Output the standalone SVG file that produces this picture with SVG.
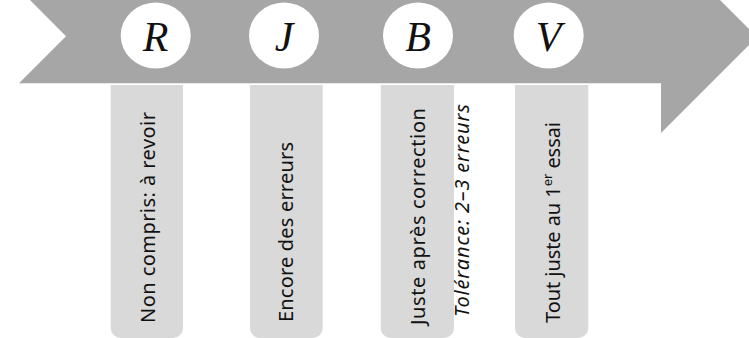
<svg xmlns="http://www.w3.org/2000/svg" width="749" height="338" viewBox="0 0 749 338">
<style>
.arrow{fill:#a6a6a6}
.card{fill:#d9d9d9}
.badge{fill:#ffffff}
.letter{font-family:"Liberation Serif",serif;font-style:italic;font-size:42px;fill:#111;text-anchor:middle}
.lbl{font-family:"Noto Sans","Liberation Sans",sans-serif;font-size:20px;fill:#111}
.it{font-style:italic}
</style>
<rect width="749" height="338" fill="#ffffff"/>
<g id="arrow">
<polygon class="arrow" points="19,-11 661,-11 661,-59 757,37 661,133 661,83.3 19,83.3 66,36.2"/>
</g>
<g id="card-R">
<path class="card" d="M110.7,85 H183 V328 a10,10 0 0 1 -10,10 H120.7 a10,10 0 0 1 -10,-10 Z"/>
<text class="lbl" transform="translate(155,323) rotate(-90)" textLength="211" lengthAdjust="spacing">Non  compris: à revoir</text>
</g>
<g id="card-J">
<path class="card" d="M250,85 H322.7 V328 a10,10 0 0 1 -10,10 H260 a10,10 0 0 1 -10,-10 Z"/>
<text class="lbl" transform="translate(293,322) rotate(-90)" textLength="180" lengthAdjust="spacing">Encore des erreurs</text>
</g>
<g id="card-B">
<path class="card" d="M380.7,85 H454 V328 a10,10 0 0 1 -10,10 H390.7 a10,10 0 0 1 -10,-10 Z"/>
<text class="lbl" transform="translate(425,325) rotate(-90)" textLength="217" lengthAdjust="spacing">Juste après correction</text>
</g>
<g id="tolerance">
<text class="lbl it" transform="translate(469,317) rotate(-90)" textLength="213" lengthAdjust="spacing">Tolérance: 2–3 erreurs</text>
</g>
<g id="card-V">
<path class="card" d="M515,85 H588.3 V328 a10,10 0 0 1 -10,10 H525 a10,10 0 0 1 -10,-10 Z"/>
<text class="lbl" transform="translate(560,323) rotate(-90)" textLength="201" lengthAdjust="spacing">Tout juste au 1<tspan font-size="13" dy="-8">er</tspan><tspan dy="8"> essai</tspan></text>
</g>
<g id="badge-R">
<ellipse class="badge" cx="155.7" cy="35.5" rx="35" ry="33"/>
<text class="letter" x="155.7" y="51">R</text>
</g>
<g id="badge-J">
<ellipse class="badge" cx="284" cy="35.5" rx="35" ry="33"/>
<text class="letter" x="284" y="51">J</text>
</g>
<g id="badge-B">
<ellipse class="badge" cx="418" cy="35.5" rx="35" ry="33"/>
<text class="letter" x="418" y="51">B</text>
</g>
<g id="badge-V">
<ellipse class="badge" cx="548.7" cy="35.5" rx="35" ry="33"/>
<text class="letter" x="548.7" y="51">V</text>
</g>
</svg>
